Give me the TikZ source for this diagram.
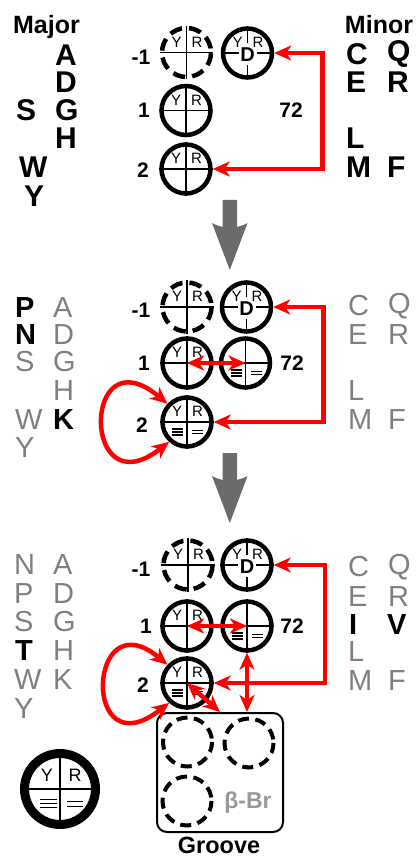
\documentclass[tikz,border=0pt]{standalone}
\usepackage{fontspec}
\setmainfont{Liberation Sans}
\usetikzlibrary{arrows.meta}
\definecolor{lgray}{HTML}{808080}
\definecolor{agray}{HTML}{6B6B6B}
\definecolor{bgray}{HTML}{999999}
\definecolor{ared}{HTML}{FF0000}
\tikzset{
  qc/.style={circle, draw, line width=4.5pt, minimum size=49pt, inner sep=0pt},
  qcdash/.style={qc, dash pattern=on 12.5pt off 7pt, dash phase=15.5pt},
  gcdash/.style={circle, draw, line width=4pt, minimum size=49pt, inner sep=0pt, dash pattern=on 11pt off 6.5pt, dash phase=14pt},
  xl/.style={line width=1.3pt},
  barl/.style={line width=1.2pt},
  yr/.style={inner sep=0pt, font=\fontsize{15}{15}\selectfont},
  dtext/.style={inner sep=0pt, font=\fontsize{20}{20}\selectfont\bfseries},
  numl/.style={inner sep=0pt, font=\fontsize{21}{21}\selectfont\bfseries},
  head/.style={inner sep=0pt, anchor=base, font=\fontsize{25}{25}\selectfont\bfseries},
  bk/.style={inner sep=0pt, anchor=west, font=\fontsize{30}{30}\selectfont\bfseries},
  gl/.style={inner sep=0pt, anchor=west, text=lgray, font=\fontsize{29}{29}\selectfont},
  bl/.style={inner sep=0pt, anchor=west, font=\fontsize{29}{29}\selectfont\bfseries},
  rarr/.style={draw=ared, line width=4.5pt, >={Stealth[length=17pt,width=15pt,inset=5pt]}},
}
\newcommand\Cross[1]{\draw[xl] (#1.north) -- (#1.south); \draw[xl] (#1.west) -- (#1.east);}
\newcommand\YR[1]{\node[yr] (#1y) at ([shift={(-10pt,10.5pt)}]#1.center) {Y};
  \node[yr] (#1r) at ([shift={(10.5pt,10.5pt)}]#1.center) {R};}
\newcommand\Bars[1]{%
  \draw[barl] ([shift={(-15pt,-7pt)}]#1.center) -- ++(11pt,0pt);
  \draw[barl] ([shift={(-15pt,-10pt)}]#1.center) -- ++(11pt,0pt);
  \draw[barl] ([shift={(-15pt,-13pt)}]#1.center) -- ++(11pt,0pt);
  \draw[barl] ([shift={(5pt,-8.3pt)}]#1.center) -- ++(11pt,0pt);
  \draw[barl] ([shift={(5pt,-11.8pt)}]#1.center) -- ++(11pt,0pt);}
\newcommand\DCross[1]{%
  \draw[xl] (#1.north) -- ([yshift=10pt]#1.center);
  \draw[xl] ([yshift=-12pt]#1.center) -- (#1.south);
  \draw[xl] (#1.west) -- ([xshift=-9pt]#1.center);
  \draw[xl] ([xshift=9pt]#1.center) -- (#1.east);
  \node[dtext] (#1x) at ([yshift=-1.5pt]#1.center) {D};}
\begin{document}
\begin{tikzpicture}[x=1pt,y=1pt]
\useasboundingbox (0,0) rectangle (415,-858);

% ---------------- panel 1 ----------------
\node[head] (major) at (46.5,-34) {Major};
\node[head] (minor) at (379,-34) {Minor};
\node[bk] (a1A) at (55,-55) {A};
\node[bk] (a1D) at (55,-82) {D};
\node[bk] (a1G) at (55,-110) {G};
\node[bk] (a1H) at (55,-138) {H};
\node[bk] (a1S) at (16,-110) {S};
\node[bk] (a1W) at (19,-167) {W};
\node[bk] (a1Y) at (24,-196) {Y};
\node[bk] (a1C) at (346,-54) {C};
\node[bk] (a1Q) at (387,-54) {Q};
\node[bk] (a1E) at (346,-82) {E};
\node[bk] (a1R) at (387,-82) {R};
\node[bk] (a1L) at (346,-138.5) {L};
\node[bk] (a1M) at (346,-167) {M};
\node[bk] (a1F) at (387,-167) {F};

\node[qcdash] (p1m) at (186.5,-52.5) {};
\node[qc] (p1d) at (247.5,-53) {};
\node[qc] (p1a) at (186,-110.5) {};
\node[qc] (p1b) at (186,-169) {};
\Cross{p1m}\YR{p1m}
\DCross{p1d}\YR{p1d}
\Cross{p1a}\YR{p1a}
\Cross{p1b}\YR{p1b}
\node[numl] (p1lm) at (141,-57) {-1};
\node[numl] (p1la) at (144,-110.5) {1};
\node[numl] (p1lb) at (143,-170) {2};
\node[numl] (p1le) at (291,-110) {72};
\coordinate (p1r) at (322.5,-110);
\draw[rarr,<->] (p1b.east) -- (p1b.east -| p1r) -- (p1d.east -| p1r) -- (p1d.east);

% gray arrows
\foreach \t in {200,453}{
  \fill[agray] (222.5,-\t) -- (237,-\t) -- (237,-\t-27)
    .. controls (240.5,-\t-26) and (244,-\t-25) .. (247.5,-\t-23)
    -- (229.8,-\t-70) -- (212,-\t-23)
    .. controls (215.5,-\t-25) and (219,-\t-26) .. (222.5,-\t-27) -- cycle;
}

% ---------------- panel 2 ----------------
\node[bl] (b1P) at (15,-308) {P};
\node[bl] (b1N) at (15,-335) {N};
\node[gl] (b1S) at (15,-362) {S};
\node[gl] (b1W) at (15,-420) {W};
\node[gl] (b1Y) at (15,-448) {Y};
\node[gl] (b1A) at (53,-308) {A};
\node[gl] (b1D) at (53,-335) {D};
\node[gl] (b1G) at (53,-362) {G};
\node[gl] (b1H) at (53,-391) {H};
\node[bl] (b1K) at (53,-420) {K};
\node[gl] (b1C) at (348,-306) {C};
\node[gl] (b1Q) at (388,-306) {Q};
\node[gl] (b1E) at (348,-335) {E};
\node[gl] (b1R) at (388,-335) {R};
\node[gl] (b1L) at (348,-391) {L};
\node[gl] (b1M) at (348,-420) {M};
\node[gl] (b1F) at (388,-420) {F};

\node[qcdash] (p2m) at (187,-307) {};
\node[qc] (p2d) at (246.5,-307) {};
\node[qc] (p2a) at (187,-363) {};
\node[qc] (p2e) at (245.5,-363) {};
\node[qc] (p2b) at (187,-422) {};
\Cross{p2m}\YR{p2m}
\DCross{p2d}\YR{p2d}
\Cross{p2a}\YR{p2a}
\Cross{p2e}\Bars{p2e}
\Cross{p2b}\YR{p2b}\Bars{p2b}
\node[numl] (p2lm) at (141,-310) {-1};
\node[numl] (p2la) at (144,-363) {1};
\node[numl] (p2lb) at (142,-425) {2};
\node[numl] (p2le) at (292,-363) {72};
\coordinate (p2r) at (323.5,-363);
\draw[rarr,<->] (p2b.east) -- (p2b.east -| p2r) -- (p2d.east -| p2r) -- (p2d.east);
\draw[rarr,<->] (p2a.center) -- (p2e.center);
\draw[rarr,<->] (p2b.137) .. controls +(140:112pt) and +(218:112pt) .. (p2b.228);

% ---------------- panel 3 ----------------
\node[gl] (c1N) at (14,-565) {N};
\node[gl] (c1P) at (14,-594) {P};
\node[gl] (c1S) at (14,-622) {S};
\node[bl] (c1T) at (15,-651) {T};
\node[gl] (c1W) at (14,-680) {W};
\node[gl] (c1Y) at (14,-709) {Y};
\node[gl] (c1A) at (53,-565) {A};
\node[gl] (c1D) at (53,-594) {D};
\node[gl] (c1G) at (53,-622) {G};
\node[gl] (c1H) at (53,-651) {H};
\node[gl] (c1K) at (53,-680) {K};
\node[gl] (c1C) at (348,-567) {C};
\node[gl] (c1Q) at (388,-567) {Q};
\node[gl] (c1E) at (348,-597) {E};
\node[gl] (c1R) at (388,-597) {R};
\node[bl] (c1I) at (349,-625) {I};
\node[bl] (c1V) at (387,-625) {V};
\node[gl] (c1L) at (348,-652) {L};
\node[gl] (c1M) at (348,-681) {M};
\node[gl] (c1F) at (388,-681) {F};

\node[draw, line width=2pt, rounded corners=10pt, minimum width=126pt, minimum height=119pt, inner sep=0pt] (groove) at (220,-772.5) {};
\node[gcdash] (g1) at (187.5,-742) {};
\node[gcdash] (g2) at (249,-743) {};
\node[gcdash] (g3) at (187,-801) {};
\node[inner sep=0pt, text=bgray, font=\fontsize{23}{23}\selectfont\bfseries] (bbr) at (248,-803) {β-Br};
\node[head, font=\fontsize{23.5}{23.5}\selectfont\bfseries] (groovelab) at (219,-853) {Groove};

\node[qcdash] (p3m) at (188,-565) {};
\node[qc] (p3d) at (247,-565) {};
\node[qc] (p3a) at (187,-626) {};
\node[qc] (p3e) at (247,-626) {};
\node[qc] (p3b) at (187,-683) {};
\Cross{p3m}\YR{p3m}
\DCross{p3d}\YR{p3d}
\Cross{p3a}\YR{p3a}
\Cross{p3e}\Bars{p3e}
\Cross{p3b}\YR{p3b}\Bars{p3b}
\node[numl] (p3lm) at (141,-569) {-1};
\node[numl] (p3la) at (146,-626) {1};
\node[numl] (p3lb) at (143,-685) {2};
\node[numl] (p3le) at (292,-626) {72};
\coordinate (p3r) at (325,-683);
\draw[rarr,<->] (p3b.east) -- (p3b.east -| p3r) -- (p3d.east -| p3r) -- (p3d.east);
\draw[rarr,<->] (p3a.center) -- (p3e.center);
\draw[rarr,<->] (p3b.137) .. controls +(140:105pt) and +(218:112pt) .. (p3b.228);
\draw[rarr,<->] (p3e.south) -- (p3e.south |- groove.north);
\draw[rarr,<->] (p3b.center) -- (groove.north);

% ---------------- legend ----------------
\node[circle, draw, line width=9pt, minimum size=71pt, inner sep=0pt] (leg) at (60,-789) {};
\draw[line width=2pt] (leg.north) -- (leg.south);
\draw[line width=2pt] (leg.west) -- (leg.east);
\node[inner sep=0pt, font=\fontsize{18}{18}\selectfont] (legy) at (47,-775) {Y};
\node[inner sep=0pt, font=\fontsize{18}{18}\selectfont] (legr) at (75,-775) {R};
\draw[line width=1.6pt] (40,-799.5) -- (57,-799.5);
\draw[line width=1.6pt] (40,-803.5) -- (57,-803.5);
\draw[line width=1.6pt] (40,-807.5) -- (57,-807.5);
\draw[line width=1.6pt] (67,-801.5) -- (83,-801.5);
\draw[line width=1.6pt] (67,-806.5) -- (83,-806.5);
\end{tikzpicture}
\end{document}
